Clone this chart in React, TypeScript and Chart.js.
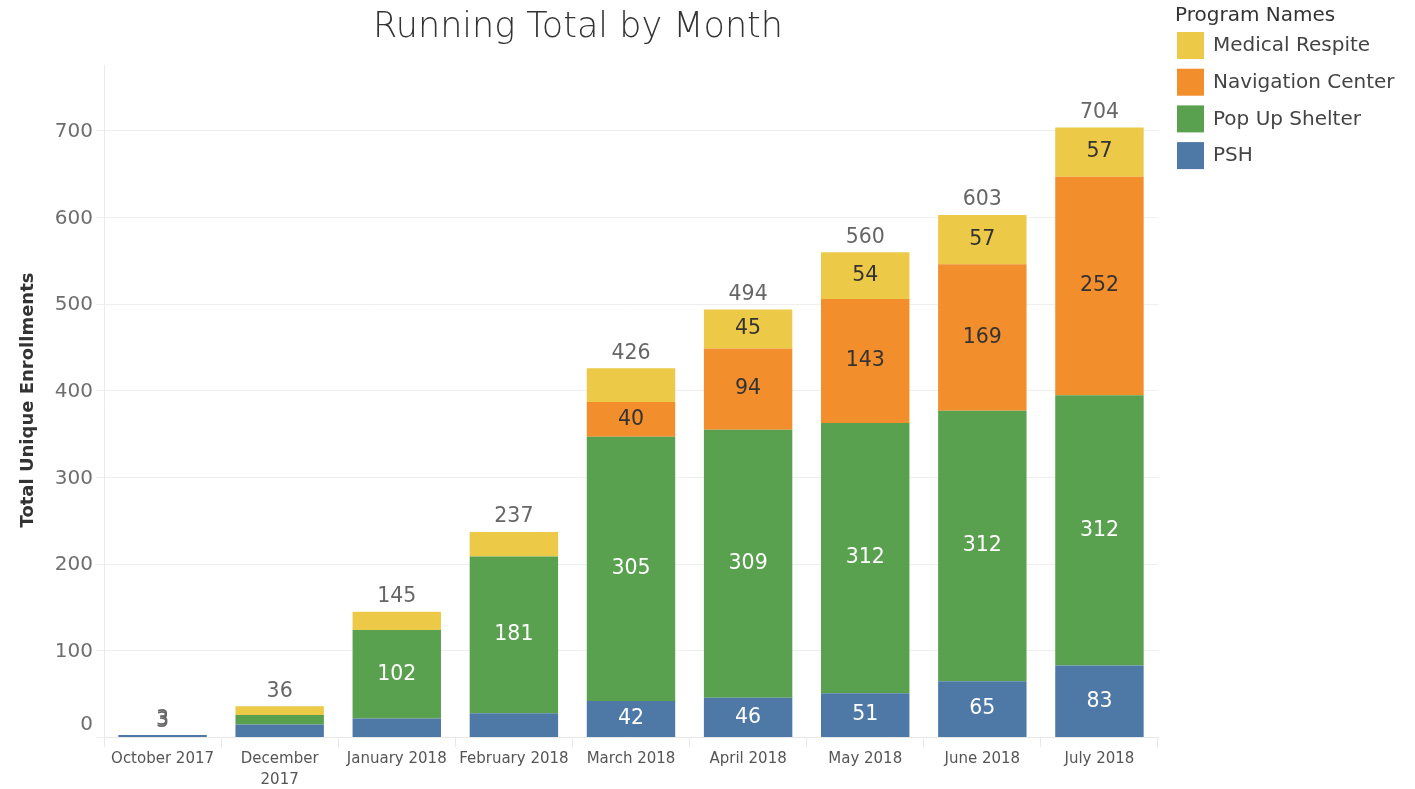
import React, { useEffect, useRef } from "react";
import { Chart, registerables } from "chart.js";

Chart.register(...registerables);

const categories: (string | string[])[] = [
  "October 2017",
  ["December", "2017"],
  "January 2018",
  "February 2018",
  "March 2018",
  "April 2018",
  "May 2018",
  "June 2018",
  "July 2018",
];

const pshValues = [3, 15, 22, 28, 42, 46, 51, 65, 83];
const popUpValues = [0, 11, 102, 181, 305, 309, 312, 312, 312];
const navigationValues = [0, 0, 0, 0, 40, 94, 143, 169, 252];
const medicalValues = [0, 10, 21, 28, 39, 45, 54, 57, 57];

const seriesNames = ["PSH", "Pop Up Shelter", "Navigation Center", "Medical Respite"];
const seriesColors = ["#4E79A7", "#59A14F", "#F28E2B", "#EDC948"];
const labelColors = ["#ffffff", "#ffffff", "#333333", "#333333"];

const yTicks = [0, 100, 200, 300, 400, 500, 600, 700];
const yMax = 776;

const titleText = "Running Total by Month";
const yAxisTitle = "Total Unique Enrollments";
const legendTitle = "Program Names";

const FONT = "'DejaVu Sans', sans-serif";

const overlayPlugin = {
  id: "overlay",
  afterDraw(chart: any) {
    const ctx = chart.ctx as CanvasRenderingContext2D;
    const yScale = chart.scales.y;
    ctx.save();

    // Title
    ctx.fillStyle = "#333333";
    ctx.font = `200 35px ${FONT}`;
    ctx.textAlign = "center";
    ctx.textBaseline = "middle";
    ctx.fillText(titleText, 578, 28);

    // Y axis title
    ctx.save();
    ctx.translate(28, 400);
    ctx.rotate(-Math.PI / 2);
    ctx.font = `bold 18px ${FONT}`;
    ctx.fillStyle = "#333333";
    ctx.textAlign = "center";
    ctx.textBaseline = "middle";
    ctx.fillText(yAxisTitle, 0, 0);
    ctx.restore();

    // Y tick labels
    ctx.font = `20px ${FONT}`;
    ctx.fillStyle = "#6e6e6e";
    ctx.textAlign = "right";
    ctx.textBaseline = "middle";
    yTicks.forEach((v) => {
      let y = yScale.getPixelForValue(v);
      if (v === 0) y -= 14;
      ctx.fillText(String(v), 93, y + 1);
    });

    // Segment labels
    const nSets = chart.data.datasets.length;
    ctx.font = `20.5px ${FONT}`;
    ctx.textAlign = "center";
    ctx.textBaseline = "middle";
    for (let i = 0; i < nSets; i++) {
      const meta = chart.getDatasetMeta(i);
      const data = chart.data.datasets[i].data as number[];
      meta.data.forEach((el: any, j: number) => {
        const v = data[j];
        if (v >= 40) {
          ctx.fillStyle = labelColors[i];
          ctx.fillText(String(v), el.x, (el.y + el.base) / 2);
        }
      });
    }

    // Totals
    const topMeta = chart.getDatasetMeta(nSets - 1);
    ctx.fillStyle = "#666666";
    topMeta.data.forEach((el: any, j: number) => {
      let total = 0;
      let nonZero = 0;
      for (let i = 0; i < nSets; i++) {
        const v = (chart.data.datasets[i].data as number[])[j];
        total += v;
        if (v > 0) nonZero++;
      }
      const y = Math.min(el.y, el.base) - 15;
      ctx.fillText(String(total), el.x, y);
      if (nonZero === 1 && total < 40) {
        ctx.fillText(String(total), el.x, y + 1.5);
      }
    });

    // Legend
    ctx.textAlign = "left";
    ctx.textBaseline = "middle";
    ctx.font = `20px ${FONT}`;
    ctx.fillStyle = "#333333";
    ctx.fillText(legendTitle, 1175, 16);
    for (let k = 0; k < nSets; k++) {
      const i = nSets - 1 - k;
      const top = 32 + k * 36.7;
      ctx.fillStyle = seriesColors[i];
      ctx.fillRect(1177, top, 27, 27);
      ctx.fillStyle = "#444444";
      ctx.font = `20px ${FONT}`;
      ctx.fillText(chart.data.datasets[i].label, 1213, top + 14);
    }

    ctx.restore();
  },
};

export default function App() {
  const canvasRef = useRef<HTMLCanvasElement | null>(null);

  useEffect(() => {
    if (!canvasRef.current) return;
    const seriesValues = [pshValues, popUpValues, navigationValues, medicalValues];
    const chart = new Chart(canvasRef.current, {
      type: "bar",
      data: {
        labels: categories,
        datasets: seriesValues.map((vals, i) => ({
          label: seriesNames[i],
          data: vals,
          backgroundColor: seriesColors[i],
          borderWidth: 0,
          barPercentage: 0.755,
          categoryPercentage: 1,
        })),
      },
      options: {
        responsive: false,
        animation: false,
        layout: { padding: { top: 65, right: 257, left: 0, bottom: 0 } },
        plugins: {
          legend: { display: false },
          title: { display: false },
          tooltip: { enabled: false },
        },
        scales: {
          x: {
            stacked: true,
            grid: {
              offset: true,
              drawOnChartArea: false,
              drawTicks: true,
              tickLength: 10,
              color: "#e8e8e8",
            },
            border: { color: "#e8e8e8" },
            ticks: {
              color: "#555555",
              font: { family: FONT, size: 15, lineHeight: 1.4 },
              padding: 1,
              maxRotation: 0,
              autoSkip: false,
            },
            afterFit: (s: any) => {
              s.height = 789 - 737.5;
            },
          },
          y: {
            stacked: true,
            min: 0,
            max: yMax,
            afterBuildTicks: (s: any) => {
              s.ticks = yTicks.map((v) => ({ value: v }));
            },
            grid: {
              color: "#efefef",
              tickLength: 8,
              drawTicks: true,
            },
            border: { color: "#ebebeb" },
            ticks: { display: false },
            afterFit: (s: any) => {
              s.width = 104;
            },
          },
        },
      },
      plugins: [overlayPlugin],
    });
    return () => chart.destroy();
  }, []);

  return (
    <div style={{ position: "absolute", left: 0, top: 0, width: 1415, height: 789, background: "#fff" }}>
      <canvas ref={canvasRef} width={1415} height={789} style={{ display: "block" }} />
    </div>
  );
}
